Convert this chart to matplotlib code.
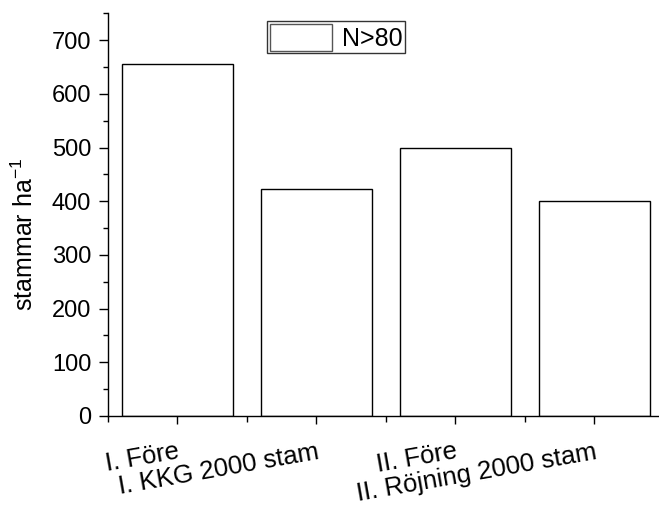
import matplotlib
matplotlib.use("Agg")
import matplotlib.pyplot as plt
from matplotlib.ticker import MultipleLocator

plt.rcParams['font.family'] = ['Liberation Sans', 'DejaVu Sans']

# data
groups = ["I. Före", "I. KKG 2000 stam", "II. Före", "II. Röjning 2000 stam"]
stems = [655, 422, 500, 400]
legend_label = "N>80"

fig = plt.figure(figsize=(6.59, 5.08), dpi=100)
ax = fig.add_axes([108 / 659, 1 - 416 / 508, 555.5 / 659, 402.7 / 508])

pos = list(range(1, len(groups) + 1))
ax.bar(pos, stems, width=0.8, color="white", edgecolor="black",
       linewidth=1.0, label=legend_label)

ax.set_xlim(0.5, 4.5)
ax.set_ylim(0, 750)

# spines: only left and bottom
ax.spines["top"].set_visible(False)
ax.spines["right"].set_visible(False)
for s in ("left", "bottom"):
    ax.spines[s].set_linewidth(1.0)

ax.yaxis.set_major_locator(MultipleLocator(100))
ax.yaxis.set_minor_locator(MultipleLocator(50))
ax.set_xticks(pos)
ax.set_xticks([0.5, 1.5, 2.5, 3.5], minor=True)
ax.set_xticklabels(groups, rotation=10, ha="right", rotation_mode="anchor",
                   fontsize=18.5)
ax.tick_params(axis="x", which="major", length=6, width=1, pad=11)
ax.tick_params(axis="x", which="minor", length=4, width=1)
ax.tick_params(axis="y", which="major", length=6.5, width=1, pad=5.5,
               labelsize=17)
ax.tick_params(axis="y", which="minor", length=3.5, width=1)

ax.set_ylabel("stammar ha$^{\\mathregular{-1}}$", fontsize=18)
ax.yaxis.set_label_coords(-0.126, 0.45)

leg = ax.legend(loc="upper left", bbox_to_anchor=((267 - 108) / 555.5, (416 - 21) / 402.7),
                fontsize=18, frameon=True, fancybox=False, handlelength=2.5,
                handleheight=1.3, borderpad=0.1, handletextpad=0.4,
                borderaxespad=0)
leg.get_frame().set_edgecolor("black")
leg.get_frame().set_linewidth(1.0)
leg.legend_handles[0].set_edgecolor("#555555")

fig.savefig("out.png", dpi=100)
